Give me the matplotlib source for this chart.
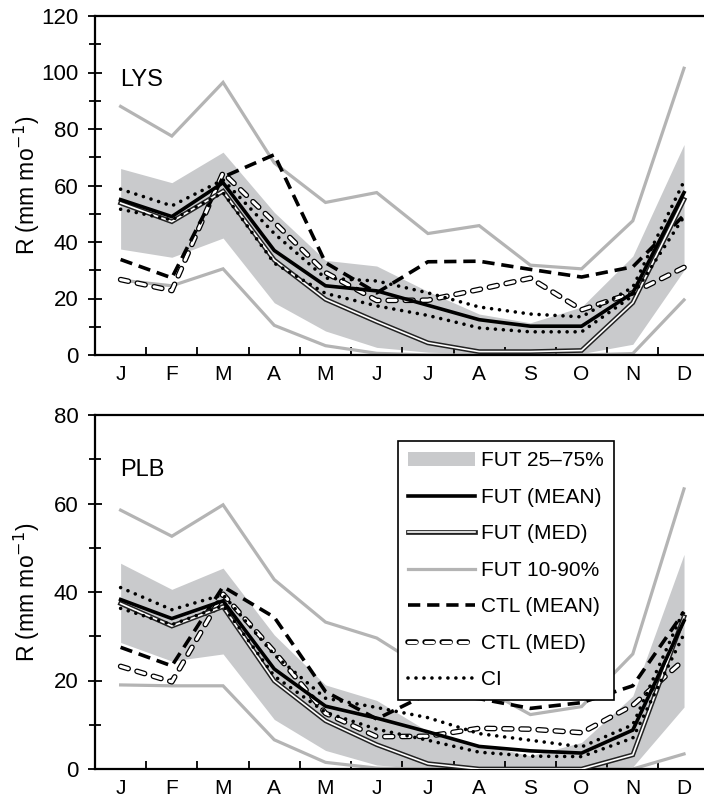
import matplotlib
matplotlib.use("Agg")
import matplotlib.pyplot as plt
import matplotlib.patheffects as pe
from matplotlib.patches import Patch
from matplotlib.lines import Line2D
import numpy as np

plt.rcParams['font.family'] = ['Liberation Sans', 'DejaVu Sans']

months = ['J', 'F', 'M', 'A', 'M', 'J', 'J', 'A', 'S', 'O', 'N', 'D']

# LYS (top panel)
lys_fut_mean = [55, 49, 61, 37, 24.5, 22.7, 17.6, 12.5, 10.2, 10.2, 22, 57.5]
lys_fut_med = [53.8, 47.2, 58, 33.6, 19.7, 11.8, 4.3, 1.2, 1.2, 1.6, 18.5, 55]
lys_fut_p10 = [26.5, 24.5, 30.5, 10.5, 3.3, 0.6, 0, 0, 0, 0, 0.5, 19.5]
lys_fut_p90 = [88, 77.5, 96.5, 68, 54, 57.5, 43, 45.8, 31.8, 30.5, 47.5, 101.5]
lys_fut_p25 = [37.5, 34.6, 41.4, 18.5, 8.5, 2.7, 1, 0.5, 0.5, 0.5, 3.8, 30]
lys_fut_p75 = [66, 61, 71.8, 50.5, 33.5, 31.5, 22.5, 14.5, 11.4, 17, 35, 74.5]
lys_ci_hi = [58.7, 52.8, 62, 43, 27.2, 26.2, 22, 17, 14.5, 13.5, 24, 61.5]
lys_ci_lo = [51.6, 47.8, 57.5, 32.5, 21.8, 17.4, 14, 9.6, 8.2, 8.2, 21, 49]
lys_ctl_mean = [33.8, 27.3, 63, 70.9, 32.7, 22, 33, 33.2, 30.3, 27.6, 31.2, 49.5]
lys_ctl_med = [26.7, 22.8, 64.5, 47, 29.2, 19.3, 19.4, 23.2, 27.2, 16, 22, 31]

# PLB (bottom panel)
plb_fut_mean = [38.3, 34, 38, 22.6, 14.2, 11.5, 8.4, 5.1, 4.1, 3.6, 8.8, 33.5]
plb_fut_med = [37.4, 32.3, 36.7, 19.9, 10.9, 5.5, 1.2, 0, 0, 0, 3.2, 34.4]
plb_fut_p10 = [19, 18.8, 18.8, 6.6, 1.5, 0.2, 0, 0, 0, 0, 0, 3.4]
plb_fut_p90 = [58.5, 52.6, 59.7, 42.8, 33.2, 29.6, 22.3, 18.7, 12.3, 14.1, 26, 63.3]
plb_fut_p25 = [28.6, 24.4, 26, 11.2, 4.2, 0.9, 0, 0, 0, 0, 0.5, 14]
plb_fut_p75 = [46.5, 40.6, 45.4, 30.3, 19, 15.5, 8.5, 5.5, 3, 6, 16.5, 48.5]
plb_ci_hi = [41, 36, 39.4, 25.8, 16, 13.9, 11.6, 8, 6.5, 5, 10, 36]
plb_ci_lo = [36.3, 32.6, 36.9, 21, 12.8, 9, 6.5, 3.8, 2.9, 2.8, 7, 30.5]
plb_ctl_mean = [27.5, 23.3, 41.2, 34.3, 17.5, 11.3, 17, 15.9, 13.7, 15, 18.8, 35.5]
plb_ctl_med = [23.2, 19.7, 39.5, 26.5, 12.6, 7.3, 7.4, 9.2, 9, 8.2, 14.4, 24.7]

x = np.arange(1, 13)

gray_band = '#c9cacc'
gray_line = '#b4b4b4'

med_fx = [pe.Stroke(linewidth=3.4, foreground='#222222'), pe.Normal()]
ctl_med_fx = [pe.Stroke(linewidth=4.0, foreground='black'), pe.Normal()]
ctl_med_ls = (0, (2.6, 3.0))
ctl_mean_ls = (0, (3.4, 1.9))
ci_ls = (0, (0.01, 2.2))


def draw_panel(ax, p25, p75, p10, p90, mean, med, ctl_mean, ctl_med, ci_hi, ci_lo, ymax, name, name_y):
    ax.fill_between(x, p25, p75, color=gray_band, lw=0, zorder=1)
    ax.plot(x, p10, color=gray_line, lw=2.3, zorder=2, solid_joinstyle='miter')
    ax.plot(x, p90, color=gray_line, lw=2.3, zorder=2, solid_joinstyle='miter')
    ax.plot(x, ctl_med, color='white', lw=2.2, ls=ctl_med_ls, dash_capstyle='round', zorder=3,
            path_effects=ctl_med_fx)
    ax.plot(x, ctl_mean, color='black', lw=2.6, ls=ctl_mean_ls, zorder=4)
    ax.plot(x, med, color='white', lw=1.2, zorder=5, solid_joinstyle='miter', path_effects=med_fx)
    ax.plot(x, mean, color='black', lw=2.6, zorder=6, solid_joinstyle='miter')
    for ci in (ci_hi, ci_lo):
        ax.plot(x, ci, color='black', lw=2.6, ls=ci_ls, dash_capstyle='round', zorder=7)

    ax.set_xlim(0.5, 12.39)
    ax.set_ylim(0, ymax)
    ax.set_xticks(x)
    ax.set_xticklabels(months, fontsize=15)
    ax.set_xticks(np.arange(1.5, 12, 1), minor=True)
    ax.tick_params(axis='x', which='major', length=0, pad=7)
    ax.tick_params(axis='x', which='minor', direction='in', length=6, width=1.3)
    ax.set_yticks(np.arange(0, ymax + 1, 20))
    ax.set_yticks(np.arange(10, ymax, 20), minor=True)
    ax.tick_params(axis='y', which='major', direction='inout', length=10, width=1.3, labelsize=16, pad=7)
    ax.tick_params(axis='y', which='minor', direction='inout', length=9, width=1.3)
    for s in ('left', 'bottom', 'top'):
        ax.spines[s].set_linewidth(1.6)
    ax.spines['right'].set_visible(False)
    ax.text(1.0, name_y, name, fontsize=17, ha='left', va='center')


fig = plt.figure(figsize=(7.04, 8), dpi=100)
ax1 = fig.add_axes([95 / 704, 1 - 355 / 800, 609 / 704, 339 / 800])
ax2 = fig.add_axes([95 / 704, 1 - 769 / 800, 609 / 704, 354 / 800])

draw_panel(ax1, lys_fut_p25, lys_fut_p75, lys_fut_p10, lys_fut_p90, lys_fut_mean, lys_fut_med,
           lys_ctl_mean, lys_ctl_med, lys_ci_hi, lys_ci_lo, 120, 'LYS', 97.5)
draw_panel(ax2, plb_fut_p25, plb_fut_p75, plb_fut_p10, plb_fut_p90, plb_fut_mean, plb_fut_med,
           plb_ctl_mean, plb_ctl_med, plb_ci_hi, plb_ci_lo, 80, 'PLB', 67.5)

ylab = 'R (mm mo$^{-1}$)'
fig.text(27 / 704, 1 - 185 / 800, ylab, fontsize=16.5, rotation=90, ha='center', va='center')
fig.text(27 / 704, 1 - 592 / 800, ylab, fontsize=16.5, rotation=90, ha='center', va='center')

handles = [
    Patch(facecolor=gray_band, edgecolor='none'),
    Line2D([], [], color='black', lw=2.6),
    Line2D([], [], color='white', lw=1.2, path_effects=med_fx),
    Line2D([], [], color=gray_line, lw=2.3),
    Line2D([], [], color='black', lw=2.6, ls=ctl_mean_ls),
    Line2D([], [], color='white', lw=2.2, ls=ctl_med_ls, dash_capstyle='round', path_effects=ctl_med_fx),
    Line2D([], [], color='black', lw=2.6, ls=ci_ls, dash_capstyle='round'),
]
labels = ['FUT 25\u201375%', 'FUT (MEAN)', 'FUT (MED)', 'FUT 10-90%', 'CTL (MEAN)', 'CTL (MED)', 'CI']
leg = ax2.legend(handles, labels, loc='upper left', bbox_to_anchor=(0.4975, 0.9266), borderaxespad=0,
                 fontsize=15, handlelength=3.2, handletextpad=0.3, labelspacing=0.84,
                 fancybox=False, framealpha=1, edgecolor='black', borderpad=0.5)
leg.get_frame().set_linewidth(1.2)

fig.savefig('out.png', dpi=100)
